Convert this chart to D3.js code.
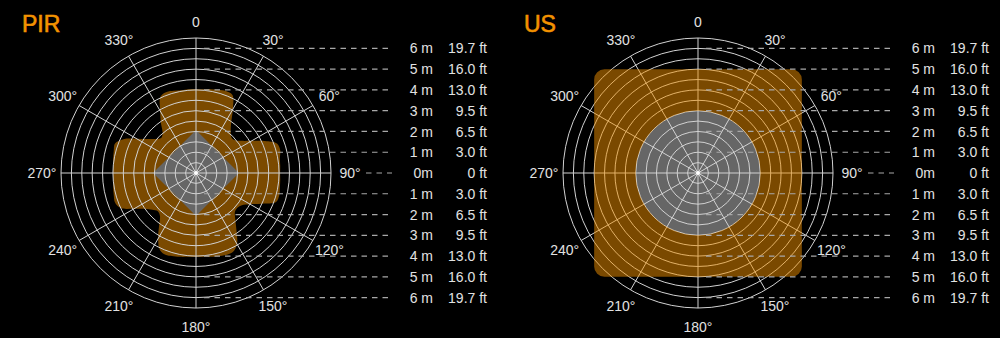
<!DOCTYPE html>
<html>
<head>
<meta charset="utf-8">
<script src="https://cdn.jsdelivr.net/npm/d3@7"></script>
<style>
  html, body { margin: 0; padding: 0; background: #000; }
  svg { display: block; font-family: "Liberation Sans", Arial, Helvetica, sans-serif; }
</style>
</head>
<body>
<div id="chart"></div>
<script>
/* Detection zone charts: PIR vs US sensor, polar grids with metric/imperial rows */

// grid rings (metres) and spokes (degrees)
var ringSteps = [0.5, 1, 1.5, 2, 2.5, 3, 3.5, 4, 4.5, 5, 5.5, 6, 6.5];
var spokeAngles = [0, 30, 60, 90, 120, 150, 180, 210, 240, 270, 300, 330];
var angleLabels = ["0", "30°", "60°", "90°", "120°", "150°", "180°", "210°", "240°", "270°", "300°", "330°"];

// distance rows on the right
var rowOffsets = [6, 5, 4, 3, 2, 1, 0, -1, -2, -3, -4, -5, -6];
var metreLabels = ["6 m", "5 m", "4 m", "3 m", "2 m", "1 m", "0m", "1 m", "2 m", "3 m", "4 m", "5 m", "6 m"];
var feetLabels = ["19.7 ft", "16.0 ft", "13.0 ft", "9.5 ft", "6.5 ft", "3.0 ft", "0 ft",
                  "3.0 ft", "6.5 ft", "9.5 ft", "13.0 ft", "16.0 ft", "19.7 ft"];

// PIR detection outline: angle (deg) -> range (m)
var pirAngles = [0, 5, 10, 15, 20, 25, 30, 35, 40, 45, 50, 55, 60, 65, 70, 75, 80, 85,
                 90, 95, 100, 105, 110, 115, 120, 125, 130, 135, 140, 145, 150, 155, 160, 165, 170, 175,
                 180, 185, 190, 195, 200, 205, 210, 215, 220, 225, 230, 235, 240, 245, 250, 255, 260, 265,
                 270, 275, 280, 285, 290, 295, 300, 305, 310, 315, 320, 325, 330, 335, 340, 345, 350, 355];
var pirRange = [4.05, 4.05, 4.1, 4.15, 4.2, 4.15, 3.55, 2.95, 2.6, 2.42, 2.45, 2.7, 3.1, 3.65, 4.15, 4.2, 4.1, 4.07,
                4.05, 4.07, 4.1, 4.15, 4.1, 3.5, 3.0, 2.7, 2.6, 2.65, 2.95, 3.4, 3.95, 4.2, 4.2, 4.15, 4.1, 4.05,
                4.05, 4.05, 4.1, 4.15, 4.2, 4.1, 3.65, 3.1, 2.7, 2.6, 2.75, 3.0, 3.45, 4.0, 4.15, 4.1, 4.05, 4.0,
                4.0, 4.0, 4.05, 4.1, 4.15, 3.85, 3.3, 2.85, 2.55, 2.38, 2.5, 2.95, 3.45, 4.05, 4.15, 4.1, 4.05, 4.05];
// PIR blind zone (diamond)
var pirDeadAngles = [0, 90, 180, 270];
var pirDeadRange = [2, 2, 2, 2];

// US detection zone: rounded square, circular blind zone
var usZoneHalf = 5;
var usZoneCorner = 0.5;
var usDeadRadius = 3;

var W = 1000, H = 338;
var svg = d3.select("#chart").append("svg").attr("width", W).attr("height", H);
svg.append("rect").attr("width", W).attr("height", H).attr("fill", "#000");

var r = d3.scaleLinear().domain([0, 6.5]).range([0, 135]);
var rad = function (deg) { return deg * Math.PI / 180; };
var ORANGE = "#f39200";

function drawPanel(cx, cy, title, drawFill, fillOverGrid) {
  var g = svg.append("g").attr("transform", "translate(" + cx + "," + cy + ")");
  var under = g.append("g");
  var grid = g.append("g");
  var over = g.append("g");

  drawFill(under, over);

  grid.selectAll("circle.ring").data(ringSteps).enter().append("circle")
    .attr("class", "ring").attr("r", function (d) { return r(d); })
    .attr("fill", "none").attr("stroke", "#d2d2d2").attr("stroke-width", 1);
  grid.selectAll("line.spoke").data(spokeAngles).enter().append("line")
    .attr("class", "spoke")
    .attr("x2", function (d) { return Math.sin(rad(d)) * r(6.5); })
    .attr("y2", function (d) { return -Math.cos(rad(d)) * r(6.5); })
    .attr("stroke", "#d2d2d2").attr("stroke-width", 1);
  grid.append("circle").attr("r", 2).attr("fill", "#fff");

  if (fillOverGrid) over.raise();

  // angle labels
  var labels = g.append("g").attr("fill", "#e2e2e2").attr("font-size", 14);
  labels.selectAll("text").data(spokeAngles).enter().append("text")
    .attr("x", function (d) { return Math.sin(rad(d)) * (d === 0 ? 151 : 154); })
    .attr("y", function (d) { return -Math.cos(rad(d)) * (d === 0 ? 151 : 154); })
    .attr("dy", "0.36em").attr("text-anchor", "middle")
    .text(function (d, i) { return angleLabels[i]; });

  // distance rows
  var rows = g.append("g");
  rows.selectAll("line").data(rowOffsets).enter().append("line")
    .attr("x1", function (d) { return d === 0 ? 170 : 8; })
    .attr("x2", 196)
    .attr("y1", function (d) { return -r(d); })
    .attr("y2", function (d) { return -r(d); })
    .attr("stroke", "#a8a8a8").attr("stroke-width", 1.2).attr("stroke-dasharray", "5.5,5");
  rows.selectAll("text.m").data(rowOffsets).enter().append("text")
    .attr("class", "m").attr("x", 237).attr("y", function (d) { return -r(d); })
    .attr("dy", "0.36em").attr("text-anchor", "end").attr("font-size", 14).attr("fill", "#e2e2e2")
    .text(function (d, i) { return metreLabels[i]; });
  rows.selectAll("text.ft").data(rowOffsets).enter().append("text")
    .attr("class", "ft").attr("x", 291).attr("y", function (d) { return -r(d); })
    .attr("dy", "0.36em").attr("text-anchor", "end").attr("font-size", 14).attr("fill", "#e2e2e2")
    .text(function (d, i) { return feetLabels[i]; });

  svg.append("text").attr("x", cx - 174).attr("y", 32)
    .attr("font-size", 23).attr("fill", ORANGE)
    .attr("stroke", ORANGE).attr("stroke-width", 0.6).text(title);
}

// PIR panel
drawPanel(196, 173, "PIR", function (under) {
  var pts = pirAngles.map(function (a, i) { return [rad(a), r(pirRange[i])]; });
  under.append("path")
    .attr("d", d3.lineRadial().curve(d3.curveCatmullRomClosed.alpha(0.5))(pts))
    .attr("fill", "#7b4a00");
  var dead = pirDeadAngles.map(function (a, i) { return [rad(a), r(pirDeadRange[i])]; });
  under.append("path")
    .attr("d", d3.lineRadial().curve(d3.curveLinearClosed)(dead))
    .attr("fill", "#666").attr("stroke", "#666").attr("stroke-width", 2).attr("stroke-linejoin", "round");
}, false);

// US panel
drawPanel(698, 173, "US", function (under, over) {
  under.append("circle").attr("r", r(usDeadRadius)).attr("fill", "#666");
  var h = r(usZoneHalf), c = r(usZoneCorner), p = d3.path();
  p.moveTo(-h + c, -h);
  p.lineTo(h - c, -h); p.arcTo(h, -h, h, -h + c, c);
  p.lineTo(h, h - c); p.arcTo(h, h, h - c, h, c);
  p.lineTo(-h + c, h); p.arcTo(-h, h, -h, h - c, c);
  p.lineTo(-h, -h + c); p.arcTo(-h, -h, -h + c, -h, c);
  p.closePath();
  var d0 = r(usDeadRadius);
  p.moveTo(d0, 0); p.arc(0, 0, d0, 0, 2 * Math.PI); p.closePath();
  over.append("path").attr("d", p.toString())
    .attr("fill", ORANGE).attr("fill-opacity", 0.5).attr("fill-rule", "evenodd");
}, true);
</script>
</body>
</html>
